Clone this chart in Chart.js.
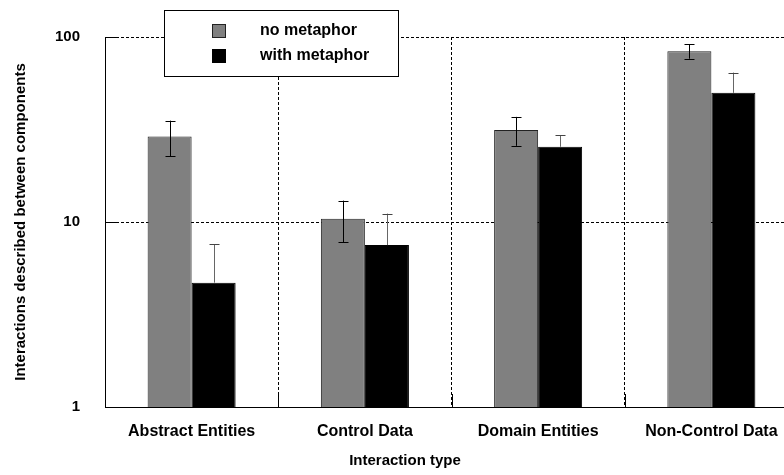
<!DOCTYPE html>
<html>
<head>
<meta charset="utf-8">
<script src="https://cdn.jsdelivr.net/npm/chart.js@4"></script>
<style>
  html, body { margin: 0; padding: 0; background: #fff; overflow: hidden; }
  #wrap { width: 798px; height: 475px; }
</style>
</head>
<body>
<div id="wrap"><canvas id="metaphorChart" width="798" height="475"></canvas></div>
<script>
const categories = ['Abstract Entities', 'Control Data', 'Domain Entities', 'Non-Control Data'];
const noMetaphor = [29.0, 10.4, 31.4, 83.8];
const noMetaphorErr = [6.3, 2.65, 5.6, 7.5];
const withMetaphor = [4.7, 7.5, 25.5, 49.9];
const withMetaphorErr = [2.9, 3.6, 3.9, 14.3];
const yTicks = [1, 10, 100];

const FONT = "'Liberation Sans', Arial, sans-serif";

// error bars, drawn through the y scale
const errorBars = {
  id: 'errorBars',
  afterDatasetsDraw(chart) {
    const ctx = chart.ctx, y = chart.scales.y;
    chart.data.datasets.forEach((ds, i) => {
      const meta = chart.getDatasetMeta(i);
      meta.data.forEach((bar, j) => {
        const v = ds.data[j], e = ds.errors[j];
        const yTop = y.getPixelForValue(v + e);
        const yBot = ds.upperOnly ? y.getPixelForValue(v) : y.getPixelForValue(v - e);
        const x = Math.round(bar.x) + 0.5;
        ctx.save();
        ctx.lineWidth = 1;
        ctx.strokeStyle = ds.errorColor;
        ctx.beginPath();
        ctx.moveTo(x, yTop); ctx.lineTo(x, yBot);
        ctx.stroke();
        ctx.strokeStyle = ds.capColor;
        ctx.beginPath();
        ctx.moveTo(x - 5, Math.round(yTop) + 0.5); ctx.lineTo(x + 5, Math.round(yTop) + 0.5);
        if (!ds.upperOnly) {
          ctx.moveTo(x - 5, Math.round(yBot) + 0.5); ctx.lineTo(x + 5, Math.round(yBot) + 0.5);
        }
        ctx.stroke();
        ctx.restore();
      });
    });
  }
};

// short solid inward ticks + floating legend box
const decorations = {
  id: 'decorations',
  afterDraw(chart) {
    const ctx = chart.ctx, a = chart.chartArea, xs = chart.scales.x, ys = chart.scales.y;
    ctx.save();
    ctx.strokeStyle = '#000';
    ctx.lineWidth = 1;
    ctx.beginPath();
    yTicks.slice(1).forEach(t => {
      const py = Math.round(ys.getPixelForValue(t)) + 0.5;
      ctx.moveTo(a.left, py); ctx.lineTo(a.left + 13, py);
    });
    for (let i = 1; i < categories.length; i++) {
      const px = Math.round((xs.getPixelForValue(i - 1) + xs.getPixelForValue(i)) / 2) + 0.5;
      ctx.moveTo(px, a.bottom); ctx.lineTo(px, a.bottom - 13);
    }
    ctx.stroke();

    // legend
    ctx.fillStyle = '#fff';
    ctx.fillRect(164.5, 10.5, 234, 66);
    ctx.strokeRect(164.5, 10.5, 234, 66);
    ctx.font = 'bold 16px ' + FONT;
    ctx.textBaseline = 'middle';
    chart.data.datasets.forEach((ds, i) => {
      const cy = 31 + i * 25;
      ctx.fillStyle = ds.backgroundColor;
      ctx.fillRect(212.5, cy - 6.5, 13, 13);
      ctx.strokeStyle = ds.borderColor;
      ctx.strokeRect(212.5, cy - 6.5, 13, 13);
      ctx.fillStyle = '#000';
      ctx.fillText(ds.label, 260, cy);
    });
    ctx.restore();
  }
};

new Chart(document.getElementById('metaphorChart'), {
  type: 'bar',
  data: {
    labels: categories,
    datasets: [{
      label: 'no metaphor',
      data: noMetaphor,
      errors: noMetaphorErr,
      backgroundColor: '#808080',
      borderColor: '#222',
      borderWidth: 1,
      errorColor: '#000',
      capColor: '#000',
      upperOnly: false
    }, {
      label: 'with metaphor',
      data: withMetaphor,
      errors: withMetaphorErr,
      backgroundColor: '#000',
      borderColor: '#000',
      borderWidth: 1,
      errorColor: '#666',
      capColor: '#444',
      upperOnly: true
    }]
  },
  options: {
    responsive: false,
    animation: false,
    layout: { padding: { top: 37, left: 12, right: 0, bottom: 0 } },
    categoryPercentage: 0.508,
    barPercentage: 1.0,
    plugins: {
      legend: { display: false },
      tooltip: { enabled: false },
      title: {
        display: true,
        position: 'bottom',
        text: 'Interaction type',
        color: '#000',
        font: { family: FONT, size: 15, weight: 'bold' },
        padding: { top: 0, bottom: 5 }
      }
    },
    scales: {
      x: {
        grid: { color: '#000', lineWidth: 1, drawTicks: false, offset: true },
        border: { display: true, color: '#000', width: 1, dash: [3, 2] },
        ticks: { color: '#000', padding: 15, font: { family: FONT, size: 16, weight: 'bold' } },
        afterFit(scale) { scale.height = 45; }
      },
      y: {
        type: 'logarithmic',
        min: 1,
        max: 100,
        afterBuildTicks(scale) { scale.ticks = yTicks.map(v => ({ value: v })); },
        grid: { color: '#000', lineWidth: 1, drawTicks: false },
        border: { display: true, color: '#000', width: 1, dash: [3, 2] },
        ticks: {
          color: '#000', padding: 25,
          font: { family: FONT, size: 15, weight: 'bold' },
          callback: v => String(v)
        },
        title: {
          display: true,
          text: 'Interactions described between components',
          color: '#000',
          font: { family: FONT, size: 15, weight: 'bold' },
          padding: { top: 0, bottom: 0 }
        },
        afterFit(scale) { scale.width = 93; }
      }
    }
  },
  plugins: [errorBars, decorations]
});
</script>
</body>
</html>
